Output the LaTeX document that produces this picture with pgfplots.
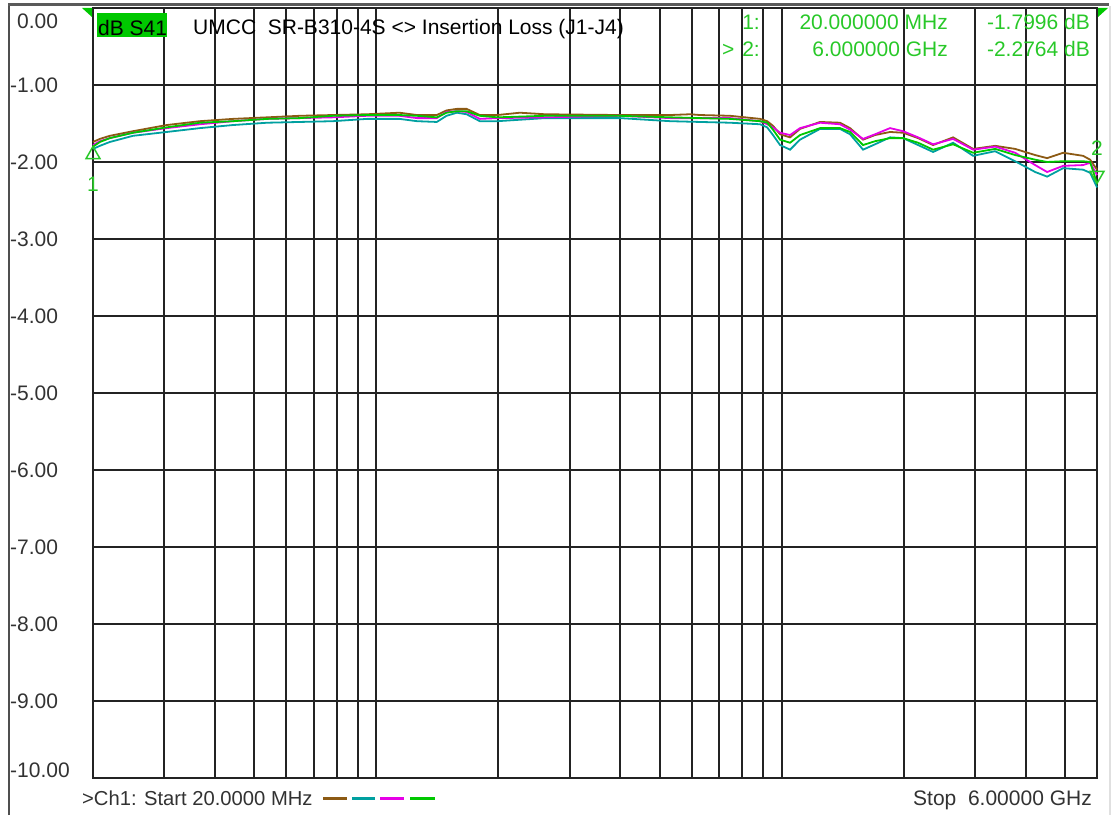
\documentclass[border=0pt]{standalone}
\usepackage{pgfplots}
\pgfplotsset{compat=1.18}
\usepackage{fontspec}
\setmainfont{Liberation Sans}

\definecolor{gridc}{RGB}{35,35,35}
\definecolor{labc}{RGB}{50,50,50}
\definecolor{trbrown}{RGB}{140,90,20}
\definecolor{trteal}{RGB}{0,160,160}
\definecolor{trmag}{RGB}{230,0,230}
\definecolor{trgreen}{RGB}{0,200,0}
\definecolor{mkgreen}{RGB}{40,200,40}
\definecolor{boxgreen}{RGB}{0,200,0}

\begin{document}
\begin{tikzpicture}[font=\fontsize{21}{25}\selectfont]
\path[use as bounding box] (0pt,0pt) rectangle (1118pt,815pt);

% outer frame of the analyzer window
\draw[gridc!80, line width=2pt] (9pt,0pt) -- (9pt,810pt);
\draw[gridc!75, line width=3pt] (8pt,810pt) -- (1109pt,810pt);
\draw[black!12, line width=2pt] (1110pt,0pt) -- (1110pt,809pt);

\begin{axis}[
    at={(93pt,37pt)}, anchor=south west,
    width=1004pt, height=770pt, scale only axis,
    xmode=log, xmin=20, xmax=6000,
    ymin=-10, ymax=0,
    clip=false,
    xtick={30,40,50,60,70,80,90,100,200,300,400,500,600,700,800,900,1000,2000,3000,4000,5000},
    xticklabels={},
    ytick={-10,-9,...,0},
    yticklabels={\raisebox{8pt}{\llap{-}10.00},\llap{-}9.00,\llap{-}8.00,\llap{-}7.00,\llap{-}6.00,\llap{-}5.00,\llap{-}4.00,\llap{-}3.00,\llap{-}2.00,\llap{-}1.00,\raisebox{-13pt}{0.00}},
    yticklabel style={anchor=base west, inner sep=0pt, xshift=-76pt, yshift=-7.5pt, text=labc},
    major tick length=0pt, minor tick length=0pt,
    grid=major,
    major grid style={gridc, line width=2pt},
    axis line style={gridc, line width=2pt},
]
% teal
\addplot[trteal, line width=1.8pt] coordinates {
(20,-1.83) (20.8,-1.79) (22.0,-1.74) (25.1,-1.66) (30.4,-1.61) (36.7,-1.56) (44.3,-1.52) (53.8,-1.49) (64.8,-1.48) (78.2,-1.47) (94.9,-1.44) (114,-1.44) (126,-1.47) (141,-1.48) (149,-1.40) (158,-1.36) (167,-1.38) (180,-1.47) (199,-1.47) (261,-1.43) (399,-1.43) (531,-1.47) (746,-1.49) (885,-1.51) (921,-1.55) (952,-1.65) (991,-1.78) (1049,-1.84) (1110,-1.71) (1244,-1.57) (1393,-1.57) (1475,-1.64) (1588,-1.84) (1700,-1.77) (1851,-1.68) (1993,-1.69) (2171,-1.78) (2364,-1.87) (2648,-1.75) (2968,-1.92) (3363,-1.86) (3768,-1.99) (4221,-2.13) (4518,-2.19) (4948,-2.08) (5543,-2.10) (5768,-2.14) (6000,-2.33)
};
% brown
\addplot[trbrown, line width=1.8pt] coordinates {
(20,-1.74) (20.8,-1.70) (22.0,-1.66) (25.1,-1.60) (30.4,-1.52) (36.7,-1.47) (44.3,-1.44) (53.8,-1.42) (64.8,-1.40) (78.2,-1.39) (94.9,-1.38) (114,-1.36) (126,-1.39) (141,-1.39) (149,-1.33) (158,-1.31) (167,-1.31) (180,-1.39) (199,-1.39) (226,-1.36) (261,-1.38) (399,-1.39) (531,-1.39) (594,-1.38) (629,-1.39) (746,-1.40) (885,-1.44) (921,-1.47) (952,-1.53) (991,-1.64) (1049,-1.68) (1110,-1.57) (1244,-1.48) (1393,-1.49) (1475,-1.56) (1588,-1.71) (1700,-1.65) (1851,-1.61) (1993,-1.62) (2171,-1.69) (2364,-1.78) (2648,-1.68) (2968,-1.83) (3363,-1.79) (3768,-1.83) (4221,-1.91) (4518,-1.95) (4948,-1.88) (5543,-1.92) (5768,-1.97) (6000,-2.10)
};
% magenta
\addplot[trmag, line width=1.8pt] coordinates {
(20,-1.78) (20.8,-1.73) (22.0,-1.69) (25.1,-1.62) (30.4,-1.56) (36.7,-1.51) (44.3,-1.47) (53.8,-1.44) (64.8,-1.43) (78.2,-1.42) (94.9,-1.40) (114,-1.40) (126,-1.43) (141,-1.43) (149,-1.35) (158,-1.34) (167,-1.35) (180,-1.44) (199,-1.43) (261,-1.42) (399,-1.40) (531,-1.43) (746,-1.43) (885,-1.47) (921,-1.51) (952,-1.55) (991,-1.62) (1049,-1.65) (1110,-1.56) (1244,-1.49) (1393,-1.51) (1475,-1.58) (1588,-1.70) (1700,-1.64) (1851,-1.56) (1993,-1.60) (2171,-1.68) (2364,-1.77) (2648,-1.70) (2968,-1.84) (3363,-1.80) (3768,-1.88) (4221,-2.04) (4518,-2.13) (4948,-2.05) (5543,-2.04) (5768,-2.01) (6000,-2.17)
};
% green (active trace)
\addplot[trgreen, line width=1.8pt] coordinates {
(20,-1.80) (20.8,-1.74) (22.0,-1.69) (25.1,-1.62) (30.4,-1.55) (36.7,-1.49) (44.3,-1.47) (53.8,-1.44) (64.8,-1.43) (78.2,-1.40) (94.9,-1.39) (114,-1.39) (126,-1.40) (141,-1.42) (149,-1.36) (158,-1.34) (167,-1.34) (180,-1.40) (199,-1.42) (261,-1.40) (399,-1.40) (531,-1.42) (746,-1.44) (885,-1.47) (921,-1.49) (952,-1.58) (991,-1.71) (1049,-1.75) (1110,-1.65) (1244,-1.56) (1393,-1.56) (1475,-1.61) (1588,-1.78) (1700,-1.73) (1851,-1.69) (1993,-1.69) (2171,-1.75) (2364,-1.84) (2648,-1.77) (2968,-1.88) (3363,-1.83) (3768,-1.91) (4221,-1.97) (4518,-2.00) (4948,-1.99) (5543,-1.99) (5768,-2.00) (6000,-2.28)
};
% markers
\addplot[mkgreen, only marks, mark=triangle, mark size=8pt,
    mark options={yshift=-8pt, line width=1.5pt},
    nodes near coords={1},
    every node near coord/.append style={anchor=north, yshift=-22pt, text=mkgreen, inner sep=0pt}]
    coordinates {(20,-1.7996)};
\addplot[mkgreen, only marks, mark=triangle, mark size=8pt,
    mark options={rotate=180, yshift=-8pt, line width=1.5pt},
    nodes near coords={2},
    every node near coord/.append style={anchor=south, yshift=19pt, text=mkgreen, inner sep=0pt}]
    coordinates {(6000,-2.2764)};
\end{axis}

% stimulus range flags
\fill[trgreen] (82pt,807pt) -- (92pt,807pt) -- (92pt,798pt) -- cycle;
\fill[trgreen] (1098pt,807pt) -- (1108pt,807pt) -- (1098pt,798pt) -- cycle;

% header
\fill[boxgreen] (97pt,778pt) rectangle (167pt,802pt);
\node[anchor=base west, inner sep=0pt] at (98pt,779pt) {dB S41};
\node[anchor=base west, inner sep=0pt] at (193pt,780pt) {UMCC\ \ SR-B310-4S <> Insertion Loss (J1-J4)};
\node[anchor=base east, inner sep=0pt, text=mkgreen] at (760pt,785pt) {1:};
\node[anchor=base east, inner sep=0pt, text=mkgreen] at (948pt,785pt) {20.000000 MHz};
\node[anchor=base east, inner sep=0pt, text=mkgreen] at (1090pt,785pt) {-1.7996 dB};
\node[anchor=base east, inner sep=0pt, text=mkgreen] at (760pt,758pt) {>\hspace{8pt}2:};
\node[anchor=base east, inner sep=0pt, text=mkgreen] at (948pt,758pt) {6.000000 GHz};
\node[anchor=base east, inner sep=0pt, text=mkgreen] at (1090pt,758pt) {-2.2764 dB};

% footer
\node[anchor=base west, inner sep=0pt, text=labc, font=\fontsize{20.2}{24}\selectfont] at (82pt,10pt) {>Ch1: Start 20.0000 MHz};
\draw[trbrown, line width=3pt] (323pt,17pt) -- (347pt,17pt);
\draw[trteal, line width=3pt] (352pt,17pt) -- (375pt,17pt);
\draw[trmag, line width=3pt] (380pt,17pt) -- (404pt,17pt);
\draw[trgreen, line width=3pt] (410pt,17pt) -- (435pt,17pt);
\node[anchor=base east, inner sep=0pt, text=labc] at (1092pt,10pt) {Stop\ \ 6.00000 GHz};
\end{tikzpicture}
\end{document}
